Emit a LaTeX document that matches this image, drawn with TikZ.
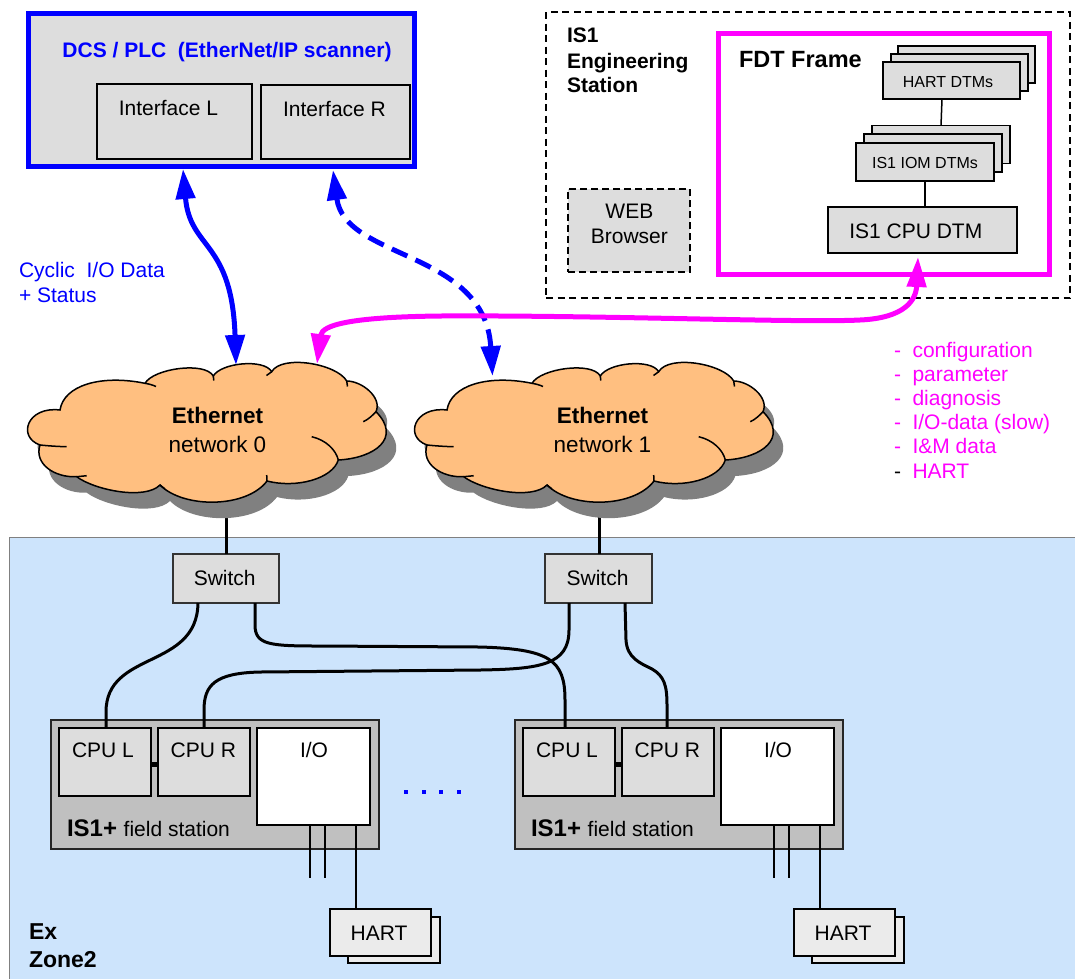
\documentclass[tikz,border=0pt]{standalone}
\usepackage{fontspec}
\setmainfont{Liberation Sans}
\usetikzlibrary{arrows.meta,calc}
\definecolor{boxgray}{HTML}{DDDDDD}
\definecolor{stgray}{HTML}{C0C0C0}
\definecolor{hartgray}{HTML}{EBEBEB}
\definecolor{zoneblue}{HTML}{CDE4FC}
\definecolor{cloudor}{HTML}{FFBF80}
\definecolor{mag}{HTML}{FF00FF}
\definecolor{blu}{HTML}{0000FF}
\begin{document}
\begin{tikzpicture}[x=1pt,y=-1pt,
  every node/.style={inner sep=0pt,outer sep=0pt},
  t21/.style={font=\fontsize{21}{24.5}\selectfont},
  t16/.style={font=\fontsize{16}{19}\selectfont},
  gbox/.style={draw=black,line width=1.6pt,fill=boxgray},
  dtm/.style={draw=black,line width=1.6pt,fill=boxgray},
  cable/.style={line width=3pt},
  thin/.style={line width=1.5pt},
  both/.style={{Triangle[length=30pt,width=19pt]}-{Triangle[length=30pt,width=19pt]}},
  ethcloud/.pic={
    \fill[black!50,shift={(10,16)}] (60,410) .. controls (63.8,385.3) and (100.9,374.3) .. (145,383.3)
      .. controls (153.5,368.5) and (204.8,361.2) .. (213.3,376)
      .. controls (221,362.7) and (264,358.4) .. (271.7,371.7)
      .. controls (281.7,354.3) and (336.7,363.6) .. (346.7,381)
      .. controls (361.7,381) and (382.4,397.3) .. (376,411.7)
      .. controls (402,438) and (375,458) .. (338.3,460)
      .. controls (332.3,479) and (296.1,488.5) .. (267,481)
      .. controls (246.6,508.2) and (183.8,508.8) .. (160,485)
      .. controls (144.6,500.4) and (94.3,489.9) .. (76.7,476.7)
      .. controls (54.7,477.8) and (33.8,464) .. (40,445)
      .. controls (17,437) and (27,406) .. (60,410) -- cycle;
    \draw[line width=1.5pt,fill=cloudor] (60,410) .. controls (63.8,385.3) and (100.9,374.3) .. (145,383.3)
      .. controls (153.5,368.5) and (204.8,361.2) .. (213.3,376)
      .. controls (221,362.7) and (264,358.4) .. (271.7,371.7)
      .. controls (281.7,354.3) and (336.7,363.6) .. (346.7,381)
      .. controls (361.7,381) and (382.4,397.3) .. (376,411.7)
      .. controls (402,438) and (375,458) .. (338.3,460)
      .. controls (332.3,479) and (296.1,488.5) .. (267,481)
      .. controls (246.6,508.2) and (183.8,508.8) .. (160,485)
      .. controls (144.6,500.4) and (94.3,489.9) .. (76.7,476.7)
      .. controls (54.7,477.8) and (33.8,464) .. (40,445)
      .. controls (17,437) and (27,406) .. (60,410) -- cycle;
    \draw[line width=1.5pt] (145,383.3) .. controls (149,384) and (153,385) .. (156,386.5)
      (213.3,376) -- (213.8,380.5)
      (271.7,371.7) -- (266.5,375.5)
      (346.7,381) -- (347.5,386.5)
      (376,411.7) .. controls (372,416) and (368,419.5) .. (363.3,421.7)
      (338.3,460) .. controls (336,450) and (326,440) .. (311.7,436.7)
      (267,481) -- (266.7,475)
      (160,485) -- (165,489)
      (76.7,476.7) -- (86.7,475.7)
      (40,445) .. controls (50,446) and (58,446.5) .. (66.7,446.7);
  },
]
\useasboundingbox (0,0) rectangle (1075,978);
\fill[white] (0,0) rectangle (1075,978);

% ---------- Ex zone
\node[draw=black!50,line width=1pt,fill=zoneblue,minimum width=1090pt,minimum height=460pt,anchor=north west] (zone) at (9,537) {};
\node[font=\bfseries\fontsize{23}{28}\selectfont,anchor=base west] (ex) at (29,939) {Ex};
\node[font=\bfseries\fontsize{23}{28}\selectfont,anchor=base west] (z2) at (29,967) {Zone2};

% ---------- DCS / PLC
\node[draw=blu,line width=5pt,fill=boxgray,minimum width=386pt,minimum height=153pt] (dcs) at (221,89.5) {};
\node[font=\bfseries\fontsize{21}{24.5}\selectfont,text=blu,anchor=base] (dcst) at (227,57) {DCS / PLC\ \ (EtherNet/IP scanner)};
\node[gbox,minimum width=155pt,minimum height=75pt] (ifL) at (174.5,121.5) {};
\node[t21,anchor=base] (ifLt) at (168.5,115) {Interface L};
\node[gbox,minimum width=149pt,minimum height=74pt] (ifR) at (335.5,122) {};
\node[t21,anchor=base] (ifRt) at (334.5,116.5) {Interface R};
\node[t21,text=blu,anchor=base west] (cyc1) at (19,277) {Cyclic\ \ I/O Data};
\node[t21,text=blu,anchor=base west] (cyc2) at (19,302) {+ Status};

% ---------- Engineering station
\node[draw=black,line width=1.5pt,dash pattern=on 7pt off 4.5pt,minimum width=524pt,minimum height=286pt] (eng) at (808,155) {};
\node[font=\bfseries\fontsize{21}{25}\selectfont,anchor=base west] (is1) at (567,42) {IS1};
\node[font=\bfseries\fontsize{21}{25}\selectfont,anchor=base west] (engw) at (567,68) {Engineering};
\node[font=\bfseries\fontsize{21}{25}\selectfont,anchor=base west] (stat) at (567,92) {Station};
\node[draw=black,line width=2pt,dash pattern=on 7pt off 4pt,fill=boxgray,minimum width=122pt,minimum height=83pt] (web) at (629,230.5) {};
\node[t21,anchor=base] (webt1) at (629.4,218) {WEB};
\node[t21,anchor=base] (webt2) at (629.4,243) {Browser};

\node[draw=mag,line width=5pt,fill=white,minimum width=331pt,minimum height=241pt] (fdt) at (884,154) {};
\node[font=\bfseries\fontsize{23.5}{28}\selectfont,anchor=base west] (fdtt) at (739,67) {FDT Frame};
\node[dtm,minimum width=137pt,minimum height=37pt] (hartB2) at (966.5,64.5) {};
\node[dtm,minimum width=137pt,minimum height=37pt] (hartB1) at (959.5,72.5) {};
\node[dtm,minimum width=137pt,minimum height=37pt] (hartF) at (951.5,80.5) {};
\node[t16,anchor=base] (hartt) at (948,87.5) {HART DTMs};
\node[dtm,minimum width=138pt,minimum height=38pt] (iomB2) at (941,144.5) {};
\node[dtm,minimum width=138pt,minimum height=38pt] (iomB1) at (933,153) {};
\node[dtm,minimum width=138pt,minimum height=38pt] (iomF) at (925,162) {};
\node[t16,anchor=base] (iomt) at (925,168) {IS1 IOM DTMs};
\node[dtm,minimum width=189pt,minimum height=46pt] (cpu) at (922.5,230) {};
\node[t21,anchor=base] (cput) at (915.8,238) {IS1 CPU DTM};
\draw[thin] ([xshift=-9.5pt]hartF.south) -- (iomB2.north);
\draw[thin] (iomF.south) -- (iomF.south |- cpu.north);

% ---------- list
\node[t21,text=mag,anchor=base west] (ld1) at (894,357) {-};
\node[t21,text=mag,anchor=base west] (li1) at (912.5,357) {configuration};
\node[t21,text=mag,anchor=base west] (ld2) at (894,381.2) {-};
\node[t21,text=mag,anchor=base west] (li2) at (912.5,381.2) {parameter};
\node[t21,text=mag,anchor=base west] (ld3) at (894,405.4) {-};
\node[t21,text=mag,anchor=base west] (li3) at (912.5,405.4) {diagnosis};
\node[t21,text=mag,anchor=base west] (ld4) at (894,429.6) {-};
\node[t21,text=mag,anchor=base west] (li4) at (912.5,429.6) {I/O-data (slow)};
\node[t21,text=mag,anchor=base west] (ld5) at (894,453.8) {-};
\node[t21,text=mag,anchor=base west] (li5) at (912.5,453.8) {I\&M data};
\node[t21,text=black,anchor=base west] (ld6) at (894,478) {-};
\node[t21,text=mag,anchor=base west] (li6) at (912.5,478) {HART};

% ---------- switches
\node[draw=black!80,line width=1.5pt,fill=boxgray,minimum width=106pt,minimum height=49pt] (sw0) at (226,578.5) {};
\node[t21,anchor=base] (sw0t) at (224.7,585) {Switch};
\node[draw=black!80,line width=1.5pt,fill=boxgray,minimum width=107pt,minimum height=49pt] (sw1) at (598.5,578.5) {};
\node[t21,anchor=base] (sw1t) at (597.5,585) {Switch};
\coordinate (c0b) at (226,470);
\coordinate (c1b) at (599.5,470);
\draw[cable] (sw0.north) -- (c0b);
\draw[cable] ([xshift=1pt]sw1.north) -- (c1b);

% ---------- clouds
\pic (cloudA) at (0,0) {ethcloud};
\pic (cloudB) at (387,0) {ethcloud};
\coordinate (cl0) at (207.5,433);
\coordinate (cl1) at (594.5,433);
\node[font=\bfseries\fontsize{22.5}{27}\selectfont,anchor=base] (cl0a) at ($(cl0)+(10,-10)$) {Ethernet};
\node[font=\fontsize{22.5}{27}\selectfont,anchor=base] (cl0b) at ($(cl0)+(10,19)$) {network 0};
\node[font=\bfseries\fontsize{22.5}{27}\selectfont,anchor=base] (cl1a) at ($(cl1)+(8,-10)$) {Ethernet};
\node[font=\fontsize{22.5}{27}\selectfont,anchor=base] (cl1b) at ($(cl1)+(8,19)$) {network 1};
\coordinate (cl0p) at (236,365);
\coordinate (cl0m) at (317,364);
\coordinate (cl1p) at (492.5,376);

% ---------- field stations
\foreach \i/\dx in {0/0,1/464}{
  \node[draw=black!85,line width=1.5pt,fill=stgray,minimum width=328pt,minimum height=129pt] (st\i) at (215+\dx,784.5) {};
  \node[gbox,minimum width=92pt,minimum height=68pt] (cpuL\i) at (105+\dx,762) {};
  \node[gbox,minimum width=92pt,minimum height=68pt] (cpuR\i) at (204+\dx,762) {};
  \node[draw=black,line width=1.6pt,fill=white,minimum width=113pt,minimum height=97pt] (io\i) at (313.5+\dx,776.5) {};
  \node[t21,anchor=base] (cpuLt\i) at (103+\dx,757.7) {CPU L};
  \node[t21,anchor=base] (cpuRt\i) at (203.3+\dx,757.7) {CPU R};
  \node[t21,anchor=base] (iot\i) at (314+\dx,757.7) {I/O};
  \node[anchor=base west] (stt\i) at (67+\dx,836) {\fontsize{24}{28}\selectfont\bfseries IS1+ \fontsize{21}{25}\selectfont\mdseries field station};
  \draw[line width=5pt] ($(cpuL\i.east)+(0,2.5)$) -- ($(cpuR\i.west)+(0,2.5)$);
  \node[draw=black,line width=1.5pt,fill=hartgray,minimum width=92pt,minimum height=46pt] (hartB\i) at (394+\dx,940) {};
  \node[draw=black,line width=1.5pt,fill=hartgray,minimum width=101pt,minimum height=47pt] (hartF\i) at (380.5+\dx,932.5) {};
  \node[t21,anchor=base] (hartt\i) at (379+\dx,940) {HART};
  \draw[thin] ($(io\i.south)+(-3.5,0)$) coordinate (ioa\i) -- ++(0,53);
  \draw[thin] ($(io\i.south)+(11.5,0)$) coordinate (iob\i) -- ++(0,53);
  \draw[thin] ($(io\i.south)+(42.5,0)$) -- ($(hartF\i.north)+(-24.5,0)$);
}
\foreach \k/\x in {1/406,2/424,3/441,4/459}
  \node[fill=blu,minimum size=4.5pt] (dot\k) at (\x,792) {};

% ---------- cables
\draw[cable] ($(sw0.south)+(-28,0)$) .. controls (197,670) and (106,650) .. (106,712) -- ($(cpuL0.north)+(1,0)$);
\draw[cable] ($(sw0.south)+(29,0)$) -- (255,625) .. controls (255,645) and (270,646) .. (320,646) -- (480,647) .. controls (550,649) and (565,660) .. (565,700) -- ($(cpuL1.north)+(-4,0)$);
\draw[cable] ($(sw1.south)+(-29.5,0)$) -- (569,630) .. controls (569,665) and (540,669) .. (480,670) -- (260,672) .. controls (215,673) and (204,685) .. (204,710) -- (cpuR0.north);
\draw[cable] ($(sw1.south)+(26.5,0)$) -- (626,640) .. controls (627,658) and (640,663) .. (652,669) .. controls (664,676) and (667,685) .. (667,705) -- ($(cpuR1.north)+(-1,0)$);

% ---------- arrows
\draw[blu,line width=5pt,both] ($(dcs.south west)+(155,3)$) .. controls (190,250) and (232,240) .. (cl0p);
\draw[blu,line width=5pt,both,dash pattern=on 17pt off 9pt] ($(dcs.south west)+(305,4)$) .. controls (345,260) and (485,250) .. (cl1p);
\draw[mag,line width=5pt,both] (cl0m) .. controls (322,325) and (350,317) .. (440,316) .. controls (600,315) and (800,323) .. (860,320) .. controls (905,318) and (916,300) .. ($(cpu.south)+(-4.5,4)$);
\end{tikzpicture}
\end{document}
